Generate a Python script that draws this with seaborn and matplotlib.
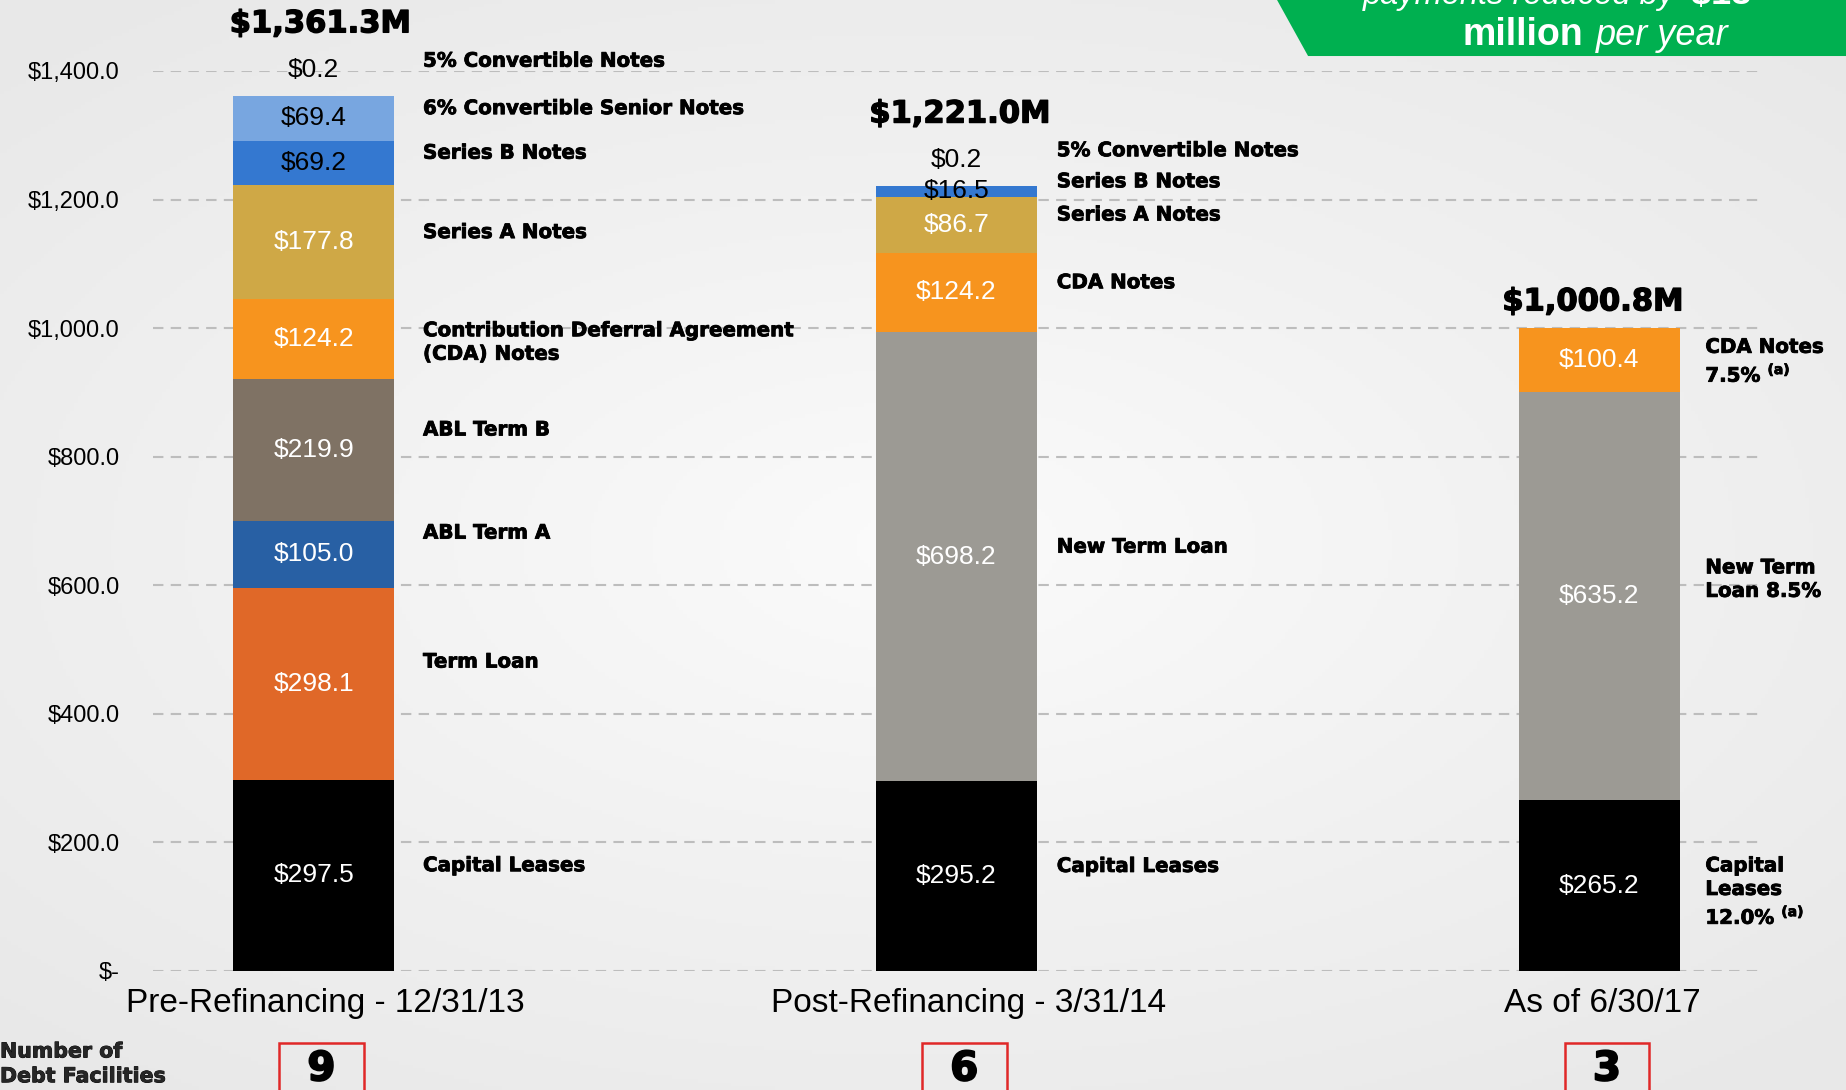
import numpy as np
import pandas as pd
import matplotlib.pyplot as plt
import matplotlib.transforms as mtransforms
import matplotlib.patheffects as pe
from matplotlib.patches import Polygon, Rectangle
import seaborn as sns

# Debt by facility ($M) at each date
periods = ['Pre-Refinancing - 12/31/13', 'Post-Refinancing - 3/31/14', 'As of 6/30/17']
layers = ['Capital Leases', 'Term Loan', 'New Term Loan', 'ABL Term A', 'ABL Term B',
          'CDA Notes', 'Series A Notes', 'Series B Notes',
          '6% Convertible Senior Notes', '5% Convertible Notes']
pre_values = [297.5, 298.1, 0, 105.0, 219.9, 124.2, 177.8, 69.2, 69.4, 0.2]
post_values = [295.2, 0, 698.2, 0, 0, 124.2, 86.7, 16.5, 0, 0.2]
asof_values = [265.2, 0, 635.2, 0, 0, 100.4, 0, 0, 0, 0]
totals = ['$1,361.3M', '$1,221.0M', '$1,000.8M']
facility_counts = ['9', '6', '3']
yticks = [0, 200, 400, 600, 800, 1000, 1200, 1400]
ytick_labels = ['$-', '$200.0', '$400.0', '$600.0', '$800.0', '$1,000.0', '$1,200.0', '$1,400.0']

# names written next to each bar (differ slightly per date)
side_names = [
    {'Capital Leases': 'Capital Leases', 'Term Loan': 'Term Loan', 'ABL Term A': 'ABL Term A',
     'ABL Term B': 'ABL Term B', 'CDA Notes': 'Contribution Deferral Agreement\n(CDA) Notes',
     'Series A Notes': 'Series A Notes', 'Series B Notes': 'Series B Notes',
     '6% Convertible Senior Notes': '6% Convertible Senior Notes',
     '5% Convertible Notes': '5% Convertible Notes'},
    {'Capital Leases': 'Capital Leases', 'New Term Loan': 'New Term Loan', 'CDA Notes': 'CDA Notes',
     'Series A Notes': 'Series A Notes', 'Series B Notes': 'Series B Notes',
     '5% Convertible Notes': '5% Convertible Notes'},
    {'Capital Leases': 'Capital\nLeases\n12.0% $^{\\bf{(a)}}$', 'New Term Loan': 'New Term\nLoan 8.5%',
     'CDA Notes': 'CDA Notes\n7.5% $^{\\bf{(a)}}$'},
]

colors = {'Capital Leases': '#000000', 'Term Loan': '#e06828', 'New Term Loan': '#9c9a94',
          'ABL Term A': '#2860a4', 'ABL Term B': '#7f7264', 'CDA Notes': '#f7941e',
          'Series A Notes': '#cfa846', 'Series B Notes': '#3478d0',
          '6% Convertible Senior Notes': '#78a6e0', '5% Convertible Notes': '#4a6fa0'}
dark_text = {'Series B Notes', '6% Convertible Senior Notes'}

# small vertical nudges for the side labels (data units)
nudge = {(0, 'Term Loan'): 34, (0, 'ABL Term A'): 33, (0, 'ABL Term B'): 31, (0, 'CDA Notes'): -5,
         (0, '5% Convertible Notes'): 54, (1, '5% Convertible Notes'): 55,
         (2, 'CDA Notes'): -3, (2, 'New Term Loan'): 26, (2, 'Capital Leases'): -10}
side_x = [0.17, 0.156, 0.165]
total_dx = [0.01, 0.005, -0.01]

df = pd.DataFrame({'layer': layers, periods[0]: pre_values,
                   periods[1]: post_values, periods[2]: asof_values})
df = df.melt(id_vars='layer', var_name='period', value_name='value')
df['top'] = df.groupby('period')['value'].cumsum()
df['bottom'] = df['top'] - df['value']

sns.set_theme(style='white')
plt.rcParams['font.family'] = ['Liberation Sans', 'DejaVu Sans']

fig = plt.figure(figsize=(18.46, 10.90), dpi=100)

# soft radial background
bg = fig.add_axes([0, 0, 1, 1], zorder=-10)
yy, xx = np.mgrid[-1:1:300j, -1:1:500j]
r = np.sqrt((xx * 0.9) ** 2 + (yy * 1.0) ** 2)
bg.imshow(r, cmap=sns.blend_palette(['#fbfbfb', '#f1f1f1', '#e8e8e8'], as_cmap=True),
          aspect='auto', extent=[0, 1, 0, 1], vmin=0, vmax=1.3)
bg.axis('off')

ax = fig.add_axes([0.0829, 0.1092, 0.8705, 0.8257])
ax.set_facecolor('none')

# stacked bars: draw cumulative tops from the top layer down
for layer in layers[::-1]:
    sub = df[df['layer'] == layer]
    sns.barplot(data=sub, x='period', y='top', order=periods, color=colors[layer],
                width=0.25, saturation=1, linewidth=0, ax=ax, zorder=3)

ax.set_xlim(-0.25, 2.25)
ax.set_ylim(0, 1400)
ax.set_yticks(yticks)
ax.set_yticklabels(ytick_labels, fontsize=17, color='black')
ax.set_xlabel('')
ax.set_ylabel('')
ax.tick_params(axis='y', length=0, pad=24, labelcolor='black')
ax.tick_params(axis='x', length=0, pad=12, labelsize=24, labelcolor='black')
for lab, dx in zip(ax.get_xticklabels(), [12, 12, 3]):
    lab.set_transform(lab.get_transform() + mtransforms.ScaledTranslation(dx / 100, 0, fig.dpi_scale_trans))
for s in ax.spines.values():
    s.set_visible(False)
for y in yticks:
    ax.axhline(y, color='#bdbdbd', lw=1.5, ls=(0, (5, 3.5)), zorder=1)

narrow = ['Liberation Sans Narrow', 'Liberation Sans']
heavy = ['DejaVu Sans']
thick = [pe.withStroke(linewidth=0.6, foreground='black')]

for i, period in enumerate(periods):
    sub = df[df['period'] == period]
    total = sub['value'].sum()
    tiny_on_top = False
    for _, row in sub.iterrows():
        if row['value'] <= 0:
            continue
        mid = (row['top'] + row['bottom']) / 2
        label = f"${row['value']:.1f}"
        if row['value'] < 1:
            tiny_on_top = True
            ax.text(i, total + 40, label, ha='center', va='center', fontsize=19,
                    family=narrow, color='black', zorder=5)
        else:
            col = 'black' if (row['layer'] in dark_text) else 'white'
            ax.text(i, mid, label, ha='center', va='center', fontsize=19,
                    family=narrow, color=col, zorder=5)
        name = side_names[i].get(row['layer'])
        if name:
            ax.text(i + side_x[i], mid + nudge.get((i, row['layer']), 15), name,
                    ha='left', va='center', fontsize=14.3, fontweight='bold',
                    family=heavy, color='black', linespacing=1.3, zorder=5,
                    path_effects=thick)
    ty = total + (112 if tiny_on_top else 40)
    ax.text(i + total_dx[i], ty, totals[i], ha='center', va='center', fontsize=22,
            fontweight='bold', family=heavy, color='black', clip_on=False,
            path_effects=[pe.withStroke(linewidth=1.0, foreground='black')])

# number of debt facilities
trans = mtransforms.blended_transform_factory(ax.transData, fig.transFigure)
for i, n in enumerate(facility_counts):
    ax.add_patch(Rectangle((i - 0.066 + 0.012, -0.02), 0.132, 0.063, transform=trans,
                           fill=False, edgecolor='#e02828', lw=1.8, clip_on=False))
    ax.text(i + 0.012, 0.019, n, transform=trans, ha='center', va='center', fontsize=29,
            fontweight='bold', family=heavy, color='black', clip_on=False,
            path_effects=[pe.withStroke(linewidth=1.4, foreground='black')])
fig.text(0.0, 0.024, 'Number of\nDebt Facilities', ha='left', va='center', fontsize=14.8,
         fontweight='bold', family=heavy, linespacing=1.3, path_effects=thick)

# green banner top right
fig.patches.append(Polygon([(0.6918, 1.0), (0.7086, 0.9486), (1.0, 0.9486), (1.0, 1.0)],
                           closed=True, transform=fig.transFigure, facecolor='#00b050',
                           edgecolor='none', zorder=5))
fig.text(0.7384, 0.9963, 'payments reduced by', fontsize=23.5, style='italic', color='white',
         va='baseline', ha='left', zorder=6)
fig.text(0.905, 0.9963, '~$18', fontsize=26, fontweight='bold', color='white',
         va='baseline', ha='left', zorder=6)
fig.text(0.792, 0.9587, 'million', fontsize=27, fontweight='bold', color='white',
         va='baseline', ha='left', zorder=6)
fig.text(0.8646, 0.9587, 'per year', fontsize=26, style='italic', color='white',
         va='baseline', ha='left', zorder=6)

fig.savefig('out.png', dpi=100)
